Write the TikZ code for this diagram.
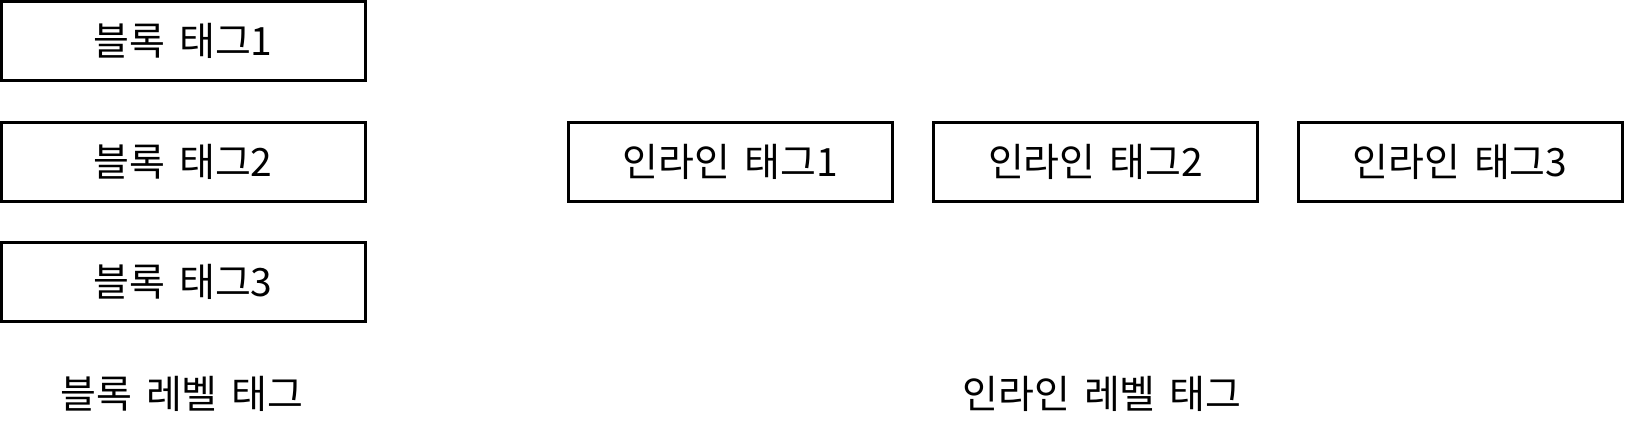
\documentclass[tikz,border=0pt]{standalone}
\usepackage{fontspec}
\newfontfamily\kr[WordSpace=1.6]{Noto Sans CJK KR}
\begin{document}
\begin{tikzpicture}[x=1pt,y=-1pt,
  tagbox/.style={draw=black, line width=3pt, minimum width=324pt, minimum height=79pt, inner sep=0pt, font=\kr\fontsize{39}{46}\selectfont},
  lbl/.style={inner sep=0pt, font=\kr\fontsize{39}{46}\selectfont}]
\useasboundingbox (0,0) rectangle (1625,438);
\node[tagbox, minimum width=364pt] (b1) at (183,41) {블록 태그1};
\node[tagbox, minimum width=364pt] (b2) at (183,162) {블록 태그2};
\node[tagbox, minimum width=364pt] (b3) at (183,282) {블록 태그3};
\node[tagbox] (i1) at (730.5,162) {인라인 태그1};
\node[tagbox] (i2) at (1095.5,162) {인라인 태그2};
\node[tagbox] (i3) at (1460,162) {인라인 태그3};
\node[lbl] (lb) at (182,394) {블록 레벨 태그};
\node[lbl] (li) at (1102,394) {인라인 레벨 태그};
\end{tikzpicture}
\end{document}
